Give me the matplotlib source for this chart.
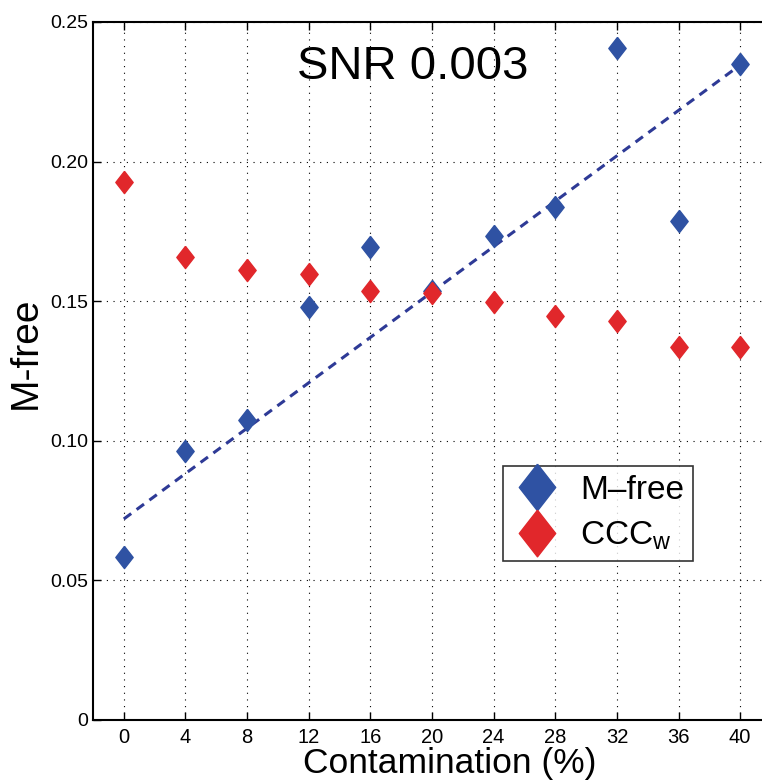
import matplotlib.pyplot as plt

contamination = [0, 4, 8, 12, 16, 20, 24, 28, 32, 36, 40]
mfree = [0.0584, 0.0963, 0.1074, 0.1480, 0.1694, 0.1537, 0.1733, 0.1837, 0.2407, 0.1787, 0.2350]
cccw = [0.1927, 0.1658, 0.1612, 0.1597, 0.1537, 0.1529, 0.1497, 0.1447, 0.1429, 0.1336, 0.1336]
trend_x = [0, 40]
trend_y = [0.072, 0.2346]
yticks = [0, 0.05, 0.10, 0.15, 0.20, 0.25]
ytick_labels = ['0', '0.05', '0.10', '0.15', '0.20', '0.25']

plt.rcParams['font.family'] = ['Liberation Sans', 'DejaVu Sans']

blue = '#2f52a3'
red = '#e1272b'
diamond = [(0, 1), (0.78, 0), (0, -1), (-0.78, 0), (0, 1)]

fig = plt.figure(figsize=(7.62, 7.8), dpi=100)
# the original figure is cut off at the right, so the axes run past the edge
ax = fig.add_axes([93/762, 60/780, 678/762, 698/780])

ax.plot(trend_x, trend_y, '--', color='#2e3a96', lw=2.2, dashes=(3, 2.2), zorder=2)
ax.plot(contamination, mfree, linestyle='none', marker=diamond, markersize=16,
        color=blue, label='M\u2013free', zorder=3)
ax.plot(contamination, cccw, linestyle='none', marker=diamond, markersize=16,
        color=red, label='CCC$_\\mathregular{w}$', zorder=3)

ax.set_xlim(-2, 42)
ax.set_ylim(0, 0.25)
ax.set_xticks(contamination)
ax.set_yticks(yticks)
ax.set_yticklabels(ytick_labels)
ax.grid(True, color='black', linestyle=(0, (1, 5)), lw=0.8)
ax.tick_params(direction='in', length=6, width=1, labelsize=14, top=True, right=True)
ax.tick_params(axis='x', labelsize=14.5, pad=6)
for s in ax.spines.values():
    s.set_linewidth(1.5)

ax.text(0.472, 0.935, 'SNR 0.003', transform=ax.transAxes, ha='center', va='center',
        fontsize=34)
ax.set_xlabel('Contamination (%)', fontsize=25.5)
ax.xaxis.set_label_coords((450 - 93)/678, -(763 - 720)/698)
ax.xaxis.label.set_va('center')
ax.set_ylabel('M-free', fontsize=28)
ax.yaxis.set_label_coords(-(67)/678, (720 - 353)/698)
ax.yaxis.label.set_va('center')

leg = ax.legend(loc='upper left', bbox_to_anchor=(410/678, 1 - 444/698), fontsize=24,
                markerscale=2.1, frameon=True, fancybox=False, edgecolor='black',
                handlelength=1.5, handletextpad=0.55, borderpad=0.27, labelspacing=0.4,
                borderaxespad=0)
leg.get_frame().set_linewidth(1.2)

fig.savefig('out.png', dpi=100)
